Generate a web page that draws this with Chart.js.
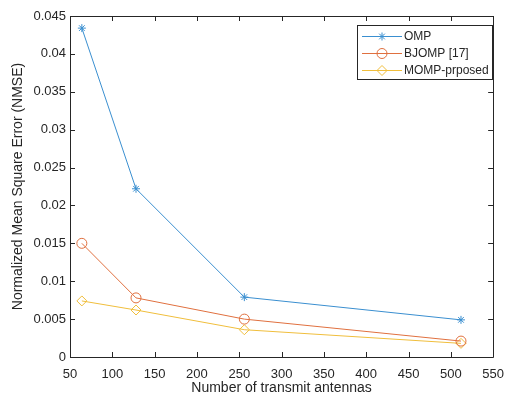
<!DOCTYPE html>
<html><head><meta charset="utf-8">
<script src="https://cdn.jsdelivr.net/npm/chart.js@4/dist/chart.umd.min.js"></script>
<style>html,body{margin:0;padding:0;background:#fff;}#wrap{width:514px;height:397px;position:relative;}</style>
</head><body><div id="wrap"><canvas id="c" width="514" height="397"></canvas></div>
<script>
const antennas = [64, 128, 256, 512];
const ompValues = [0.0434, 0.0222, 0.0079, 0.0049];
const bjompValues = [0.0150, 0.0078, 0.0050, 0.0021];
const mompValues = [0.0074, 0.0062, 0.0036, 0.0018];
const seriesNames = ['OMP', 'BJOMP [17]', 'MOMP-prposed'];
const xTickValues = [50, 100, 150, 200, 250, 300, 350, 400, 450, 500, 550];
const yTickValues = [0, 0.005, 0.01, 0.015, 0.02, 0.025, 0.03, 0.035, 0.04, 0.045];
const yTickLabels = ['0', '0.005', '0.01', '0.015', '0.02', '0.025', '0.03', '0.035', '0.04', '0.045'];

const colors = ['#3a8fd0', '#e0703f', '#f0be3c'];
const styles = ['star', 'circle', 'rectRot'];
const radii = [4, 5, 5];
const valueSets = [ompValues, bjompValues, mompValues];

const datasets = valueSets.map((vals, i) => ({
  label: seriesNames[i],
  data: antennas.map((x, j) => ({x: x, y: vals[j]})),
  borderColor: colors[i],
  backgroundColor: 'rgba(0,0,0,0)',
  borderWidth: 1,
  pointStyle: styles[i],
  pointRadius: radii[i],
  pointBorderWidth: 1,
  pointBorderColor: colors[i],
  pointBackgroundColor: 'rgba(0,0,0,0)',
  tension: 0
}));

const FONT = '"Liberation Sans", Arial, Helvetica, sans-serif';
const TXT = '#262626';

const framePlugin = {
  id: 'frame',
  afterDraw(chart) {
    const ctx = chart.ctx;
    const a = chart.chartArea;
    const xs = chart.scales.x, ys = chart.scales.y;
    ctx.save();
    ctx.strokeStyle = '#262626';
    ctx.lineWidth = 1;
    ctx.beginPath();
    ctx.rect(Math.round(a.left) + 0.5, Math.round(a.top) + 0.5, Math.round(a.right - a.left), Math.round(a.bottom - a.top));
    ctx.stroke();
    const tl = 5;
    ctx.beginPath();
    xTickValues.forEach(v => {
      const px = Math.round(xs.getPixelForValue(v)) + 0.5;
      ctx.moveTo(px, a.bottom); ctx.lineTo(px, a.bottom - tl);
      ctx.moveTo(px, a.top); ctx.lineTo(px, a.top + tl);
    });
    yTickValues.forEach(v => {
      const py = Math.round(ys.getPixelForValue(v)) + 0.5;
      ctx.moveTo(a.left, py); ctx.lineTo(a.left + tl, py);
      ctx.moveTo(a.right, py); ctx.lineTo(a.right - tl, py);
    });
    ctx.stroke();

    // legend
    const lx = 357, ly = 25, lw = 135, lh = 54;
    ctx.fillStyle = '#fff';
    ctx.fillRect(lx, ly, lw, lh);
    ctx.strokeStyle = '#262626';
    ctx.strokeRect(lx + 0.5, ly + 0.5, lw, lh);
    ctx.font = '12px ' + FONT;
    ctx.textBaseline = 'middle';
    ctx.textAlign = 'left';
    chart.data.datasets.forEach((ds, i) => {
      const y = ly + 11 + i * 17;
      ctx.strokeStyle = ds.borderColor;
      ctx.lineWidth = 1;
      ctx.beginPath();
      ctx.moveTo(lx + 5, y + 0.5); ctx.lineTo(lx + 45, y + 0.5);
      ctx.stroke();
      ctx.fillStyle = 'rgba(0,0,0,0)';
      ctx.strokeStyle = ds.borderColor;
      Chart.helpers.drawPoint(ctx, {pointStyle: ds.pointStyle, radius: ds.pointRadius, borderWidth: 1}, lx + 25, y + 0.5);
      ctx.fillStyle = TXT;
      ctx.fillText(ds.label, lx + 47, y + 1);
    });
    ctx.restore();
  }
};

new Chart(document.getElementById('c'), {
  type: 'line',
  data: {datasets: datasets},
  plugins: [framePlugin],
  options: {
    responsive: false,
    animation: false,
    devicePixelRatio: 1,
    layout: {padding: {top: 16, right: 11, left: 10, bottom: 0}},
    plugins: {legend: {display: false}, tooltip: {enabled: false}},
    scales: {
      x: {
        type: 'linear', min: 50, max: 550,
        afterBuildTicks: s => { s.ticks = xTickValues.map(v => ({value: v})); },
        grid: {display: false, drawTicks: false},
        border: {display: false},
        ticks: {color: TXT, font: {family: FONT, size: 13}, padding: 10, maxRotation: 0, autoSkip: false},
        title: {display: true, text: 'Number of transmit antennas', color: TXT, font: {family: FONT, size: 14}, padding: {top: 0, bottom: 0}},
        afterFit: s => { s.height = 40; }
      },
      y: {
        type: 'linear', min: 0, max: 0.045,
        afterBuildTicks: s => { s.ticks = yTickValues.map(v => ({value: v})); },
        grid: {display: false, drawTicks: false},
        border: {display: false},
        ticks: {color: TXT, font: {family: FONT, size: 13}, padding: 4, autoSkip: false,
          callback: (v, idx) => yTickLabels[idx]},
        title: {display: true, text: 'Normalized Mean Square Error (NMSE)', color: TXT, font: {family: FONT, size: 14}, padding: {top: 0, bottom: 2}},
        afterFit: s => { s.width = 60; }
      }
    }
  }
});
</script></body></html>
